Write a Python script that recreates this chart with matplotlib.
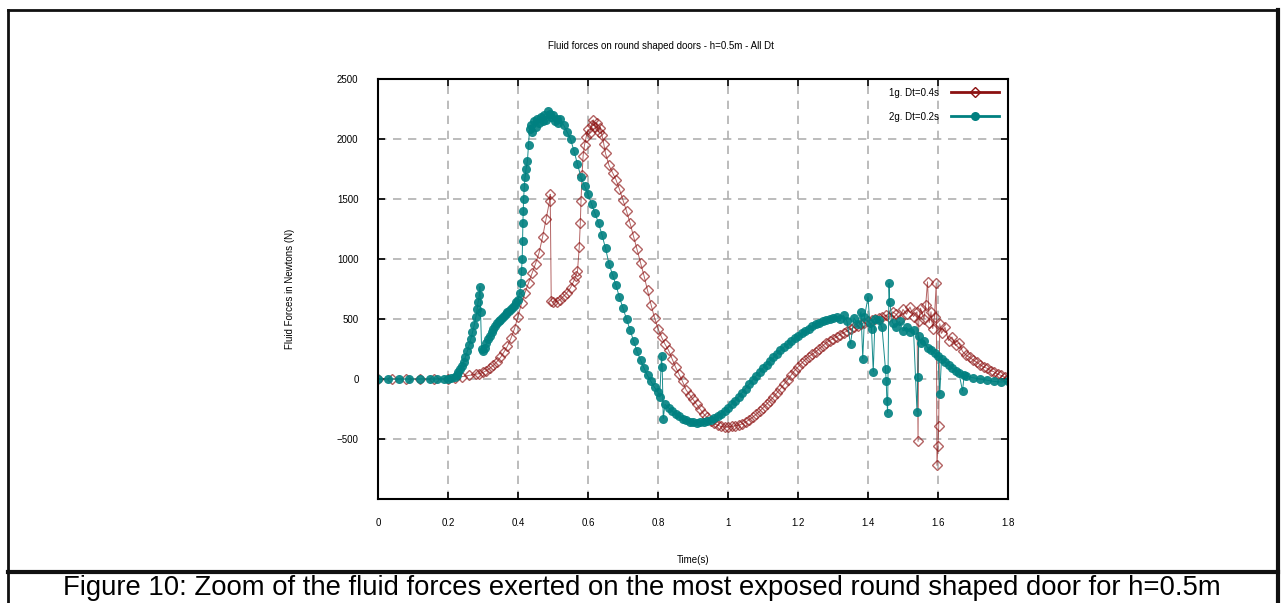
#!/usr/bin/env python

# Matplotlib for plotting
import matplotlib
matplotlib.use("Agg")
import matplotlib.pyplot as plt

# Fluid force on the door, run "1g" (Dt = 0.4 s)
time_1g = [0.00, 0.04, 0.08, 0.12, 0.16, 0.20, 0.22, 0.24, 0.26, 0.28,
           0.29, 0.30, 0.31, 0.32, 0.33, 0.34, 0.35, 0.36, 0.37, 0.38,
           0.39, 0.40, 0.41, 0.42, 0.43, 0.44, 0.45, 0.46, 0.47, 0.48,
           0.49, 0.492, 0.495, 0.50, 0.51, 0.52, 0.53, 0.54, 0.55, 0.56,
           0.565, 0.57, 0.575, 0.578, 0.58, 0.583, 0.586, 0.59, 0.595, 0.60,
           0.605, 0.61, 0.615, 0.62, 0.625, 0.63, 0.635, 0.64, 0.645, 0.65,
           0.66, 0.67, 0.68, 0.69, 0.70, 0.71, 0.72, 0.73, 0.74, 0.75,
           0.76, 0.77, 0.78, 0.79, 0.80, 0.81, 0.82, 0.83, 0.84, 0.85,
           0.86, 0.87, 0.88, 0.89, 0.90, 0.91, 0.92, 0.93, 0.94, 0.95,
           0.96, 0.97, 0.98, 0.99, 1.00, 1.01, 1.02, 1.03, 1.04, 1.05,
           1.06, 1.07, 1.08, 1.09, 1.10, 1.11, 1.12, 1.13, 1.14, 1.15,
           1.16, 1.17, 1.18, 1.19, 1.20, 1.21, 1.22, 1.23, 1.24, 1.25,
           1.26, 1.27, 1.28, 1.29, 1.30, 1.31, 1.32, 1.33, 1.34, 1.35,
           1.36, 1.37, 1.38, 1.39, 1.40, 1.41, 1.42, 1.43, 1.44, 1.45,
           1.46, 1.47, 1.48, 1.49, 1.50, 1.51, 1.52, 1.53, 1.54, 1.543,
           1.545, 1.55, 1.56, 1.565, 1.57, 1.575, 1.58, 1.585, 1.59, 1.595,
           1.597, 1.60, 1.602, 1.605, 1.61, 1.62, 1.63, 1.64, 1.65, 1.66,
           1.67, 1.68, 1.69, 1.70, 1.71, 1.72, 1.73, 1.74, 1.75, 1.76,
           1.77, 1.78, 1.79, 1.80]
force_1g = [0, 0, 0, 0, 0, 2, 10, 20, 30, 40,
            45, 55, 70, 90, 115, 145, 180, 225, 275, 340,
            420, 520, 630, 720, 800, 880, 960, 1050, 1180, 1330,
            1480, 1540, 650, 640, 645, 660, 690, 720, 760, 820,
            860, 900, 1100, 1300, 1480, 1700, 1860, 1950, 2020, 2080,
            2050, 2120, 2160, 2100, 2130, 2060, 2090, 2030, 1960, 1880,
            1780, 1720, 1660, 1580, 1490, 1400, 1300, 1190, 1080, 970,
            860, 740, 620, 510, 420, 350, 290, 240, 170, 100,
            40, -20, -90, -130, -170, -210, -250, -290, -320, -350,
            -370, -385, -395, -400, -400, -395, -390, -385, -375, -360,
            -340, -320, -295, -270, -240, -210, -180, -150, -115, -80,
            -45, -10, 30, 70, 100, 130, 160, 185, 205, 225,
            250, 275, 300, 320, 335, 350, 370, 385, 400, 415,
            430, 440, 460, 470, 480, 490, 500, 510, 520, 530,
            520, 560, 540, 500, 580, 540, 600, 520, 560, -520,
            480, 590, 500, 620, 810, 470, 560, 420, 520, 800,
            -720, -560, -390, 460, 380, 430, 320, 350, 280, 300,
            230, 200, 180, 160, 140, 120, 100, 90, 70, 60,
            40, 30, 15, 0]

# Fluid force on the door, run "2g" (Dt = 0.2 s)
time_2g = [0.00, 0.03, 0.06, 0.09, 0.12, 0.15, 0.17, 0.19, 0.20, 0.21,
           0.22, 0.225, 0.23, 0.235, 0.24, 0.245, 0.25, 0.255, 0.26, 0.265,
           0.27, 0.275, 0.28, 0.283, 0.286, 0.289, 0.291, 0.293, 0.296, 0.30,
           0.305, 0.31, 0.315, 0.32, 0.325, 0.33, 0.335, 0.34, 0.345, 0.35,
           0.355, 0.36, 0.365, 0.37, 0.375, 0.38, 0.385, 0.39, 0.395, 0.40,
           0.405, 0.408, 0.41, 0.412, 0.413, 0.414, 0.415, 0.416, 0.418, 0.42,
           0.423, 0.427, 0.43, 0.433, 0.437, 0.44, 0.445, 0.45, 0.455, 0.46,
           0.465, 0.47, 0.475, 0.48, 0.485, 0.49, 0.495, 0.50, 0.505, 0.51,
           0.515, 0.52, 0.53, 0.54, 0.55, 0.56, 0.57, 0.58, 0.59, 0.60,
           0.61, 0.62, 0.63, 0.64, 0.65, 0.66, 0.67, 0.68, 0.69, 0.70,
           0.71, 0.72, 0.73, 0.74, 0.75, 0.76, 0.77, 0.78, 0.79, 0.80,
           0.805, 0.81, 0.812, 0.815, 0.82, 0.83, 0.84, 0.85, 0.86, 0.87,
           0.88, 0.89, 0.90, 0.91, 0.92, 0.93, 0.94, 0.95, 0.96, 0.97,
           0.98, 0.99, 1.00, 1.01, 1.02, 1.03, 1.04, 1.05, 1.06, 1.07,
           1.08, 1.09, 1.10, 1.11, 1.12, 1.13, 1.14, 1.15, 1.16, 1.17,
           1.18, 1.19, 1.20, 1.21, 1.22, 1.23, 1.24, 1.25, 1.26, 1.27,
           1.28, 1.29, 1.30, 1.31, 1.32, 1.33, 1.34, 1.35, 1.36, 1.37,
           1.38, 1.385, 1.39, 1.40, 1.405, 1.41, 1.415, 1.42, 1.43, 1.44,
           1.45, 1.452, 1.454, 1.456, 1.46, 1.462, 1.47, 1.48, 1.49, 1.50,
           1.51, 1.52, 1.53, 1.54, 1.542, 1.545, 1.55, 1.56, 1.57, 1.58,
           1.59, 1.60, 1.605, 1.61, 1.62, 1.63, 1.64, 1.65, 1.66, 1.67,
           1.675, 1.68, 1.70, 1.72, 1.74, 1.76, 1.78, 1.80]
force_2g = [0, 0, 0, 0, 0, 0, 0, 0, 2, 8,
            20, 35, 55, 80, 110, 145, 185, 230, 280, 330,
            390, 450, 520, 580, 640, 700, 770, 560, 250, 230,
            260, 300, 330, 360, 390, 420, 445, 465, 480, 495,
            510, 525, 540, 555, 570, 585, 600, 620, 640, 660,
            720, 800, 900, 1000, 1150, 1300, 1400, 1500, 1600, 1680,
            1750, 1820, 1950, 2080, 2120, 2060, 2150, 2100, 2170, 2130,
            2180, 2150, 2200, 2160, 2230, 2210, 2180, 2200, 2150, 2170,
            2130, 2170, 2120, 2060, 2000, 1900, 1790, 1680, 1610, 1540,
            1460, 1380, 1300, 1200, 1090, 960, 870, 780, 680, 590,
            500, 410, 320, 230, 160, 90, 30, -20, -70, -110,
            -150, 190, 100, -330, -210, -240, -270, -290, -310, -330,
            -345, -355, -360, -365, -362, -360, -350, -340, -325, -310,
            -290, -265, -240, -210, -180, -150, -115, -80, -45, -10,
            25, 55, 90, 120, 150, 180, 210, 240, 265, 290,
            315, 340, 360, 380, 400, 420, 440, 455, 465, 480,
            490, 500, 510, 520, 500, 530, 480, 290, 510, 460,
            560, 170, 520, 680, 470, 420, 60, 500, 490, 430,
            80, -20, -180, -280, 800, 640, 470, 430, 480, 400,
            430, 390, 410, -275, 17, 360, 300, 320, 260, 240,
            220, 190, -125, 170, 140, 120, 90, 70, 50, -100,
            35, 25, 10, 0, -10, -20, -25, -20]

# Axis ticks and labels
x_ticks = [0, 0.2, 0.4, 0.6, 0.8, 1, 1.2, 1.4, 1.6, 1.8]
x_tick_labels = ["0", "0.2", "0.4", "0.6", "0.8", "1", "1.2", "1.4", "1.6", "1.8"]
y_ticks = [-500, 0, 500, 1000, 1500, 2000, 2500]

# Same Arial-like look as the original
plt.rcParams["font.family"] = ["Liberation Sans", "DejaVu Sans"]

fig = plt.figure(figsize=(12.84, 6.03), dpi=100)
ax = fig.add_axes([378 / 1284, 1 - 499 / 603, 630 / 1284, 420 / 603])

# Grey dashed grid behind the data
ax.grid(True, color="#b0b0b0", linestyle=(0, (5, 4)), linewidth=1.2)
ax.set_axisbelow(True)

# Run 1g: hollow diamonds, thin dark red line
ax.plot(time_1g, force_1g, color="#8b1010", linewidth=0.7, alpha=0.65,
        marker="D", markersize=5.5, markerfacecolor="none", markeredgewidth=1.0,
        label="1g. Dt=0.4s")
# Run 2g: filled teal markers on top
ax.plot(time_2g, force_2g, color="#008080", linewidth=0.7, alpha=0.9,
        marker="o", markersize=6.5, markeredgewidth=0,
        label="2g. Dt=0.2s")

ax.set_xlim(0, 1.8)
ax.set_ylim(-1000, 2500)
ax.set_xticks(x_ticks)
ax.set_xticklabels(x_tick_labels)
ax.set_yticks(y_ticks)
ax.tick_params(direction="in", length=5, width=1.2, top=True, right=True,
               labelsize=7, pad=14)
for spine in ax.spines.values():
    spine.set_linewidth(1.5)

ax.set_xlabel("Time(s)", fontsize=7, labelpad=19)
ax.set_ylabel("Fluid Forces in Newtons (N)", fontsize=7, labelpad=30)
fig.text(0.515, 1 - 46 / 603, "Fluid forces on round shaped doors - h=0.5m - All Dt",
         ha="center", va="center", fontsize=7)

# gnuplot style key: text first, sample after it
leg = ax.legend(loc="upper right", frameon=False, markerfirst=False, fontsize=7,
                handlelength=5.0, handletextpad=1.2, borderaxespad=0.5,
                labelspacing=1.45)
for handle in leg.get_lines():
    handle.set_alpha(1)
    handle.set_linewidth(2)

# Outer frame of the figure and the caption underneath
frame_kw = dict(color="#111111", transform=fig.transFigure)
fig.add_artist(plt.Line2D([8 / 1284, 8 / 1284], [0, 1 - 10 / 603], linewidth=2, **frame_kw))
fig.add_artist(plt.Line2D([1278 / 1284, 1278 / 1284], [0, 1 - 10 / 603], linewidth=3, **frame_kw))
fig.add_artist(plt.Line2D([8 / 1284, 1278 / 1284], [1 - 10 / 603, 1 - 10 / 603], linewidth=2, **frame_kw))
fig.add_artist(plt.Line2D([8 / 1284, 1278 / 1284], [1 - 572 / 603, 1 - 572 / 603], linewidth=3, **frame_kw))
fig.text(0.5, 1 - 588 / 603,
         "Figure 10: Zoom of the fluid forces exerted on the most exposed round shaped door for h=0.5m",
         ha="center", va="center", fontsize=19.8)

plt.savefig("out.png", dpi=100)
plt.close()
